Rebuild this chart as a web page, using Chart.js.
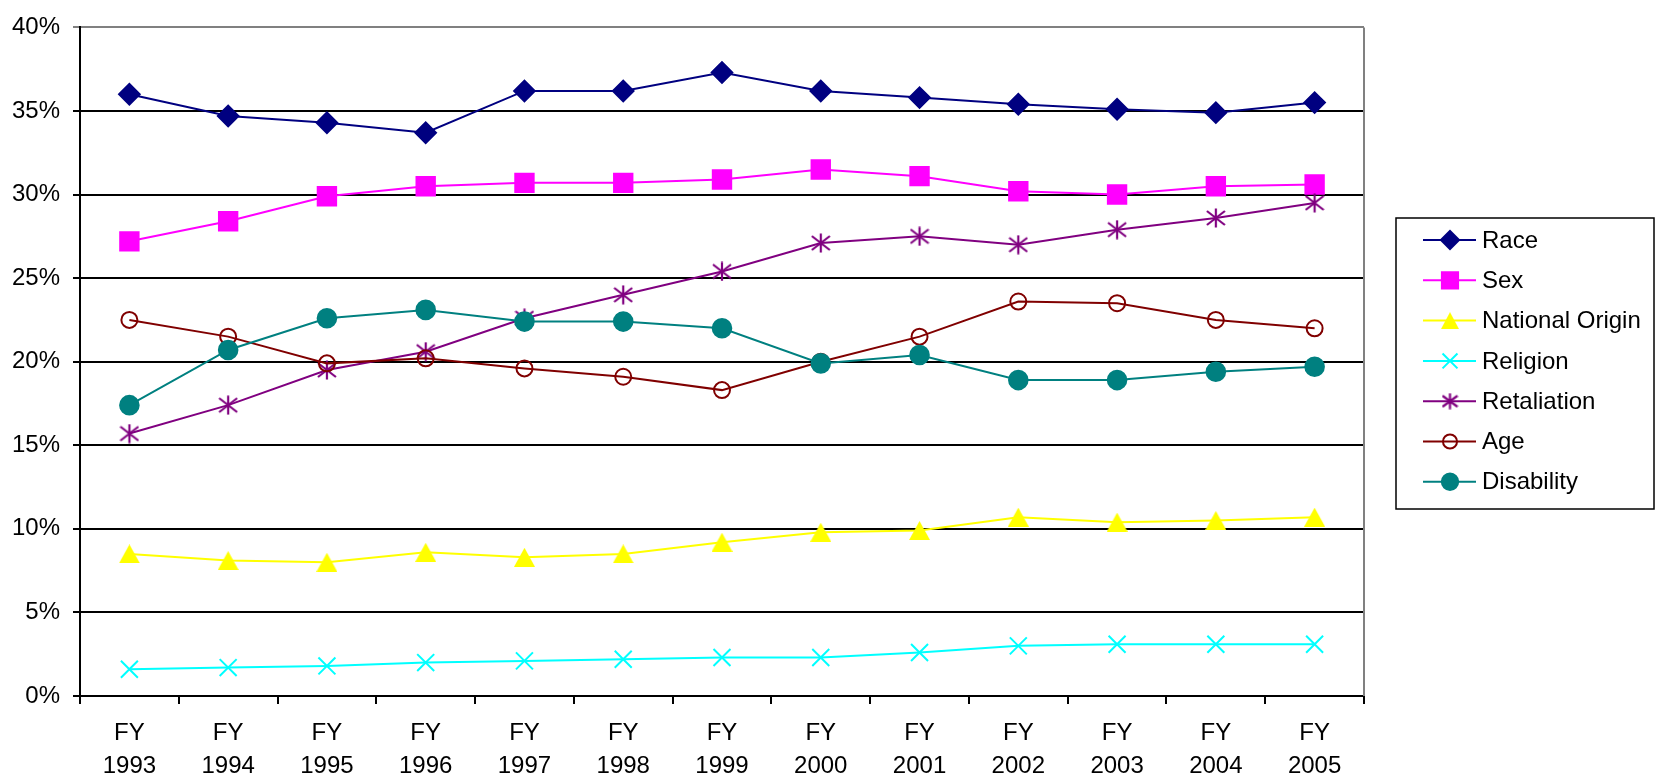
<!DOCTYPE html>
<html>
<head>
<meta charset="utf-8">
<script src="https://cdn.jsdelivr.net/npm/chart.js@4.4.1/dist/chart.umd.min.js"></script>
<style>
  html, body { margin: 0; padding: 0; background: #fff; }
  #wrap { width: 1657px; height: 774px; position: relative; }
</style>
</head>
<body>
<div id="wrap"><canvas id="chart"></canvas></div>
<script>
// Share of EEOC charge receipts by basis, FY 1993 - FY 2005 (percent)
const years = ['1993', '1994', '1995', '1996', '1997', '1998', '1999', '2000', '2001', '2002', '2003', '2004', '2005'];
const race = [36.0, 34.7, 34.3, 33.7, 36.2, 36.2, 37.3, 36.2, 35.8, 35.4, 35.1, 34.9, 35.5];
const sex = [27.2, 28.4, 29.9, 30.5, 30.7, 30.7, 30.9, 31.5, 31.1, 30.2, 30.0, 30.5, 30.6];
const nationalOrigin = [8.5, 8.1, 8.0, 8.6, 8.3, 8.5, 9.2, 9.8, 9.9, 10.7, 10.4, 10.5, 10.7];
const religion = [1.6, 1.7, 1.8, 2.0, 2.1, 2.2, 2.3, 2.3, 2.6, 3.0, 3.1, 3.1, 3.1];
const retaliation = [15.7, 17.4, 19.5, 20.6, 22.6, 24.0, 25.4, 27.1, 27.5, 27.0, 27.9, 28.6, 29.5];
const age = [22.5, 21.5, 19.9, 20.2, 19.6, 19.1, 18.3, 20.0, 21.5, 23.6, 23.5, 22.5, 22.0];
const disability = [17.4, 20.7, 22.6, 23.1, 22.4, 22.4, 22.0, 19.9, 20.4, 18.9, 18.9, 19.4, 19.7];
const yTicks = [0, 5, 10, 15, 20, 25, 30, 35, 40];

const FONT = "'Liberation Sans', Arial, sans-serif";

// Excel-style markers that Chart.js has no built-in for
function markerCanvas(w, h, draw) {
    const c = document.createElement('canvas');
    c.width = w;
    c.height = h;
    draw(c.getContext('2d'), w, h);
    return c;
}
// asterisk: vertical stroke plus an X
const starMark = (s, color) => markerCanvas(s, s, (g) => {
    g.strokeStyle = color;
    g.lineWidth = 2.2;
    g.beginPath();
    g.moveTo(s / 2, 0.5); g.lineTo(s / 2, s - 0.5);
    g.moveTo(1, 3); g.lineTo(s - 1, s - 3);
    g.moveTo(s - 1, 3); g.lineTo(1, s - 3);
    g.stroke();
});
// triangle centred on its bounding box
const triMark = (w, h, color) => markerCanvas(w, h, (g) => {
    g.fillStyle = color;
    g.beginPath();
    g.moveTo(w / 2, 0);
    g.lineTo(w, h);
    g.lineTo(0, h);
    g.closePath();
    g.fill();
});

function series(label, data, color, style, radius, fill) {
    return {
        label, data,
        borderColor: color,
        borderWidth: 2,
        pointStyle: style,
        pointRadius: radius,
        pointHoverRadius: radius,
        pointBorderColor: color,
        pointBackgroundColor: fill,
        pointBorderWidth: 2,
        tension: 0,
        fill: false
    };
}

const datasets = [
    series('Race', race, '#000080', 'rectRot', 10.3, '#000080'),
    series('Sex', sex, '#FF00FF', 'rect', 13, '#FF00FF'),
    series('National Origin', nationalOrigin, '#FFFF00', triMark(21, 19, '#FFFF00'), 10, '#FFFF00'),
    series('Religion', religion, '#00FFFF', 'crossRot', 12, '#00FFFF'),
    series('Retaliation', retaliation, '#800080', starMark(20, '#800080'), 10, '#800080'),
    series('Age', age, '#800000', 'circle', 8, 'rgba(0,0,0,0)'),
    series('Disability', disability, '#008080', 'circle', 9.3, '#008080')
];
// later series sit on top, as in the original
datasets.forEach((d, i) => { d.order = datasets.length - i; });

const legendStyles = [
    'rectRot', 'rect', triMark(18, 17, '#FFFF00'), 'crossRot', starMark(17, '#800080'), 'circle', 'circle'
];

// plot frame (gray right edge) and boxed legend with line + marker samples
const framePlugin = {
    id: 'frame',
    beforeDatasetsDraw(chart) {
        const { ctx, chartArea: a } = chart;
        ctx.save();
        ctx.strokeStyle = '#808080';
        ctx.lineWidth = 2;
        ctx.beginPath();
        ctx.moveTo(a.right, a.top);
        ctx.lineTo(a.right, a.bottom);
        ctx.stroke();
        ctx.restore();
    },
    afterDraw(chart) {
        const ctx = chart.ctx;
        const box = { x: 1396, y: 218, w: 258, h: 291 };
        ctx.save();
        ctx.strokeStyle = '#000';
        ctx.lineWidth = 1.5;
        ctx.strokeRect(box.x, box.y, box.w, box.h);
        ctx.font = '24px ' + FONT;
        ctx.textBaseline = 'middle';
        chart.data.datasets.forEach((ds, i) => {
            const y = 240 + i * 40.3;
            ctx.strokeStyle = ds.borderColor;
            ctx.lineWidth = 2;
            ctx.beginPath();
            ctx.moveTo(1423, y);
            ctx.lineTo(1476, y);
            ctx.stroke();
            ctx.fillStyle = ds.pointBackgroundColor;
            ctx.strokeStyle = ds.pointBorderColor;
            ctx.lineWidth = ds.pointBorderWidth;
            Chart.helpers.drawPoint(ctx, {
                pointStyle: legendStyles[i],
                radius: ds.pointRadius * 0.88,
                borderWidth: ds.pointBorderWidth,
                rotation: 0
            }, 1450, y);
            ctx.fillStyle = '#000';
            ctx.fillText(ds.label, 1482, y + 1);
        });
        ctx.restore();
    }
};

new Chart(document.getElementById('chart'), {
    type: 'line',
    data: {
        labels: years.map(y => ['FY', y]),
        datasets
    },
    options: {
        responsive: true,
        maintainAspectRatio: false,
        animation: false,
        layout: { padding: { top: 16, right: 293, left: 0, bottom: 0 } },
        plugins: {
            legend: { display: false },
            tooltip: { enabled: false }
        },
        scales: {
            x: {
                offset: true,
                grid: {
                    offset: true,
                    drawOnChartArea: false,
                    drawTicks: true,
                    tickLength: 8,
                    color: '#000',
                    lineWidth: 2
                },
                border: { color: '#000', width: 2 },
                ticks: {
                    color: '#000',
                    padding: 13,
                    maxRotation: 0,
                    autoSkip: false,
                    font: { family: FONT, size: 24, lineHeight: 1.37 }
                },
                afterFit(scale) { scale.height = 78; }
            },
            y: {
                min: 0,
                max: 40,
                afterBuildTicks(scale) { scale.ticks = yTicks.map(v => ({ value: v })); },
                grid: {
                    color: c => (c.tick && c.tick.value === 40 ? '#808080' : '#000'),
                    lineWidth: 2,
                    tickLength: 7
                },
                border: { color: '#000', width: 2 },
                ticks: {
                    color: '#000',
                    padding: 13,
                    font: { family: FONT, size: 24 },
                    callback: v => v + '%'
                },
                afterFit(scale) { scale.width = 80; }
            }
        }
    },
    plugins: [framePlugin]
});
</script>
</body>
</html>
